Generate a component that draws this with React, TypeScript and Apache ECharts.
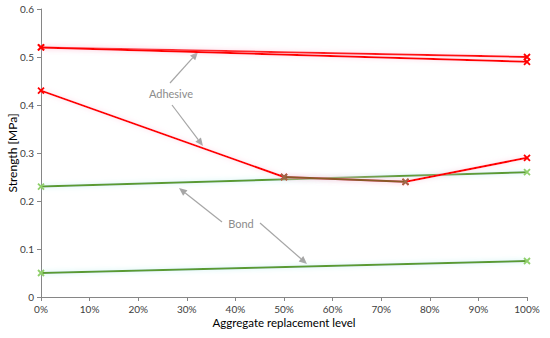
import React, { useEffect, useRef } from "react";
import * as echarts from "echarts";

const xTicks = [0, 10, 20, 30, 40, 50, 60, 70, 80, 90, 100];
const yTicks = [0, 0.1, 0.2, 0.3, 0.4, 0.5, 0.6];

const endLevels = [0, 100];
const adhesiveTopA = [0.52, 0.5];
const adhesiveTopB = [0.52, 0.49];
const adhesiveLevels = [0, 50, 75, 100];
const adhesiveLow = [0.43, 0.25, 0.24, 0.29];
const bondHigh = [0.23, 0.26];
const bondLow = [0.05, 0.075];

const RED = "#ff0000";
const GREEN = "#5a9a32";
const BROWN = "#8a5a28";
const XSYM = "path://M0 0L10 10M10 0L0 10";

const pairs = (xs: number[], ys: number[]) => xs.map((x, i) => [x, ys[i]]);

function arrow(x1: number, y1: number, x2: number, y2: number) {
  const ang = Math.atan2(y2 - y1, x2 - x1);
  const L = 8, W = 3.5;
  const bx = x2 - L * Math.cos(ang), by = y2 - L * Math.sin(ang);
  const px = -Math.sin(ang) * W, py = Math.cos(ang) * W;
  return [
    { type: "line", shape: { x1, y1, x2: bx, y2: by }, style: { stroke: "#a6a6a6", lineWidth: 1.2 } },
    {
      type: "polygon",
      shape: { points: [[x2, y2], [bx + px, by + py], [bx - px, by - py]] },
      style: { fill: "#a6a6a6" },
    },
  ];
}

export default function App() {
  const ref = useRef<HTMLDivElement>(null);
  useEffect(() => {
    const chart = echarts.init(ref.current!, null, { renderer: "svg" });
    const font = "Lato, 'Open Sans', sans-serif";
    const line = (name: string, data: number[][], color: string, glow: string, symbolColor?: string) => ({
      name,
      type: "line",
      data,
      symbol: XSYM,
      symbolSize: 6,
      itemStyle: { color: symbolColor || color, borderColor: symbolColor || color, borderWidth: 1.8 },
      lineStyle: { color, width: 2, shadowBlur: 5, shadowColor: glow },
      z: 3,
    });
    chart.setOption({
      animation: false,
      textStyle: { fontFamily: font },
      grid: { left: 41, right: 23, top: 9, bottom: 41, containLabel: false, outerBoundsMode: "none" },
      xAxis: {
        type: "value",
        min: 0,
        max: 100,
        interval: 10,
        name: "Aggregate replacement level",
        nameLocation: "middle",
        nameGap: 19,
        nameMoveOverlap: false,
        nameTextStyle: { fontSize: 11.5, color: "#000", fontFamily: font },
        axisLine: { lineStyle: { color: "#868686", width: 1 } },
        axisTick: { show: true, length: 4, lineStyle: { color: "#868686" } },
        axisLabel: { formatter: "{value}%", fontSize: 10, color: "#404040", margin: 7 },
        splitLine: { show: false },
      },
      yAxis: {
        type: "value",
        min: 0,
        max: 0.6,
        interval: 0.1,
        name: "Strength [MPa]",
        nameLocation: "middle",
        nameGap: 23,
        nameMoveOverlap: false,
        nameTextStyle: { fontSize: 12, color: "#000", fontFamily: font },
        axisLine: { show: true, lineStyle: { color: "#868686", width: 1 } },
        axisTick: { show: true, length: 4, lineStyle: { color: "#868686" } },
        axisLabel: {
          fontSize: 10,
          color: "#404040",
          margin: 7,
          formatter: (v: number) => (yTicks.some((t) => Math.abs(t - v) < 1e-9) ? (v === 0 ? "0" : v.toFixed(1)) : ""),
        },
        splitLine: { show: false },
      },
      series: [
        line("Bond high", pairs(endLevels, bondHigh), GREEN, "rgba(190,240,240,0.9)", "#8fcf6a"),
        line("Bond low", pairs(endLevels, bondLow), GREEN, "rgba(190,240,240,0.9)", "#8fcf6a"),
        line("Adhesive low", pairs(adhesiveLevels, adhesiveLow), RED, "rgba(255,200,220,0.8)"),
        {
          ...line("Adhesive low overlap", pairs(adhesiveLevels.slice(1, 3), adhesiveLow.slice(1, 3)), BROWN, "rgba(255,200,220,0.8)", "#9a6a4a"),
          z: 4,
        },
        line("Adhesive top A", pairs(endLevels, adhesiveTopA), RED, "rgba(255,200,220,0.8)"),
        line("Adhesive top B", pairs(endLevels, adhesiveTopB), RED, "rgba(255,200,220,0.8)"),
      ],
      graphic: [
        { type: "text", x: 171, y: 93, style: { text: "Adhesive", fill: "#8c8c8c", font: `11px ${font}`, align: "center", verticalAlign: "middle" } },
        { type: "text", x: 241, y: 223, style: { text: "Bond", fill: "#8c8c8c", font: `11px ${font}`, align: "center", verticalAlign: "middle" } },
        ...arrow(170, 83, 198, 52),
        ...arrow(172, 105, 203, 146),
        ...arrow(222, 222, 179, 188),
        ...arrow(260, 223, 307, 264),
      ],
    });
    return () => chart.dispose();
  }, []);
  return <div ref={ref} style={{ position: "fixed", left: 0, top: 0, width: 550, height: 338, background: "#fff" }} />;
}
